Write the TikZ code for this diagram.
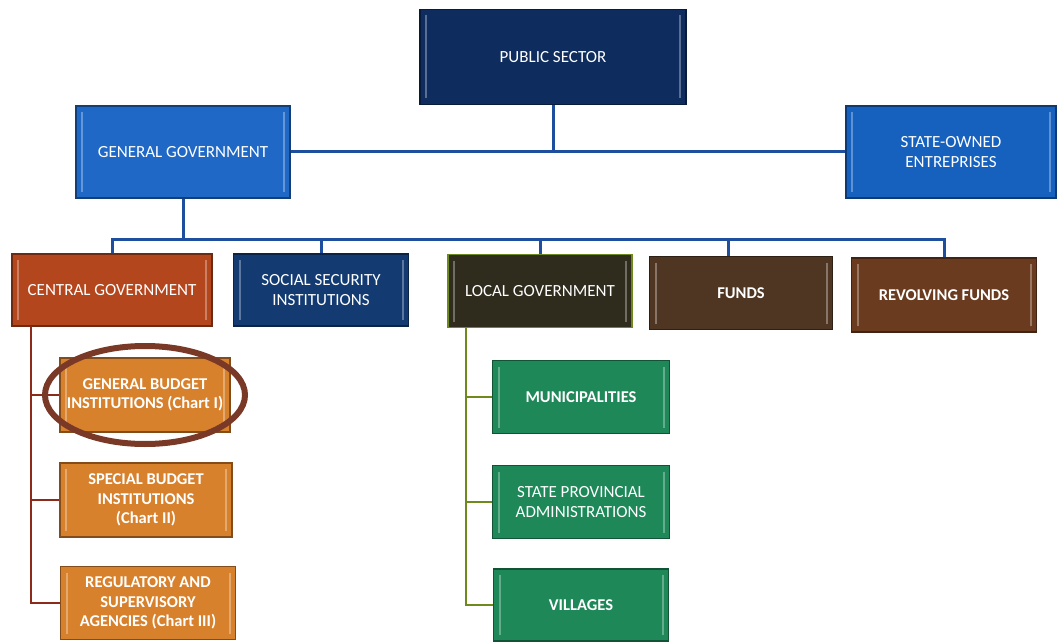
\documentclass[tikz,border=0pt]{standalone}
\usepackage{fontspec}
\setmainfont{Carlito}
\begin{document}
\begin{tikzpicture}[x=1pt,y=-1pt,
  box/.style={draw=#1!60!black, line width=1.2pt, fill=#1, text=white, align=center, inner sep=2pt,
    font=\fontsize{17}{19.5}\selectfont,
    path picture={
      \draw[#1!55!white, line width=2pt, opacity=0.7]
        ([xshift=6pt,yshift=-6pt]path picture bounding box.north west) -- ([xshift=6pt,yshift=6pt]path picture bounding box.south west);
      \draw[#1!55!white, line width=2pt, opacity=0.7]
        ([xshift=-6pt,yshift=-6pt]path picture bounding box.north east) -- ([xshift=-6pt,yshift=6pt]path picture bounding box.south east);
    }},
  bld/.style={font=\fontsize{16.5}{19.5}\selectfont\bfseries},
  bluecon/.style={draw=conblue, line width=3pt},
  redcon/.style={draw=conred, line width=2.5pt},
  greencon/.style={draw=congreen, line width=2.5pt}]
\definecolor{psec}{HTML}{0E2D5E}
\definecolor{ggov}{HTML}{1F68C6}
\definecolor{soe}{HTML}{1660BE}
\definecolor{cgov}{HTML}{B4461E}
\definecolor{ssec}{HTML}{133B72}
\definecolor{lgov}{HTML}{2F2B1D}
\definecolor{fund}{HTML}{4E3623}
\definecolor{rfund}{HTML}{6A3B1E}
\definecolor{orng}{HTML}{D8812C}
\definecolor{grn}{HTML}{1E8858}
\definecolor{conblue}{HTML}{1E4E9E}
\definecolor{conred}{HTML}{8C2B1B}
\definecolor{congreen}{HTML}{6E8A1C}
\definecolor{ring}{HTML}{7A3826}
\useasboundingbox (0,0) rectangle (1059,644);
\fill[white] (0,0) rectangle (1059,644);
% top level
\node[box=psec, minimum width=266, minimum height=95] (ps) at (553,57) {PUBLIC SECTOR};
\node[box=ggov, minimum width=214, minimum height=92] (gg) at (183,152) {GENERAL GOVERNMENT};
\node[box=soe, minimum width=210, minimum height=92] (soe) at (951,152) {STATE-OWNED\\ENTREPRISES};
% row 3
\node[box=cgov, minimum width=200, minimum height=72] (cg) at (112,290) {CENTRAL GOVERNMENT};
\node[box=ssec, minimum width=175, minimum height=72] (ss) at (321,290) {SOCIAL SECURITY\\INSTITUTIONS};
\node[box=lgov, minimum width=184, minimum height=73, draw=congreen] (lg) at (540,291) {LOCAL GOVERNMENT};
\node[box=fund, minimum width=183, minimum height=73, bld] (fu) at (741,293) {FUNDS};
\node[box=rfund, minimum width=185, minimum height=74, bld] (rf) at (944,295) {REVOLVING FUNDS};
% central government children
\node[box=orng, minimum width=170, minimum height=74, bld] (gb) at (145,395) {GENERAL BUDGET\\INSTITUTIONS (Chart I)};
\node[box=orng, minimum width=172, minimum height=74, bld] (sb) at (146,500) {SPECIAL BUDGET\\INSTITUTIONS\\(Chart II)};
\node[box=orng, minimum width=175, minimum height=73, bld] (ra) at (148,603) {REGULATORY AND\\SUPERVISORY\\AGENCIES (Chart III)};
% local government children
\node[box=grn, minimum width=177, minimum height=73, bld] (mu) at (581,397) {MUNICIPALITIES};
\node[box=grn, minimum width=177, minimum height=73] (sp) at (581,502) {STATE PROVINCIAL\\ADMINISTRATIONS};
\node[box=grn, minimum width=175, minimum height=72, bld] (vi) at (581,605) {VILLAGES};
% connectors top
\coordinate (j1) at (553,152);
\draw[bluecon] (ps.south) -- (j1);
\draw[bluecon] (gg.east) -- (soe.west);
\coordinate (bus) at (183,240);
\draw[bluecon] (gg.south) -- (bus);
\draw[bluecon] (cg.north) |- (bus);
\draw[bluecon] (bus) -| (rf.north);
\draw[bluecon] (ss.north) -- (ss.north |- bus);
\draw[bluecon] (lg.north) -- (lg.north |- bus);
\draw[bluecon] ([xshift=-13pt]fu.north) -- ([xshift=-13pt]fu.north |- bus);
% central children
\coordinate (cgx) at (31,326);
\draw[redcon] (cgx) -- (31,603) -- (ra.west);
\draw[redcon] (31,395) -- (gb.west);
\draw[redcon] (31,500) -- (sb.west);
% local children
\coordinate (lgx) at (466,328);
\draw[greencon] (lgx) -- (466,605) -- (vi.west);
\draw[greencon] (466,397) -- (mu.west);
\draw[greencon] (466,502) -- (sp.west);
% highlight ring
\draw[ring, line width=6pt] (gb.center) ellipse [x radius=100, y radius=49];
\end{tikzpicture}
\end{document}
